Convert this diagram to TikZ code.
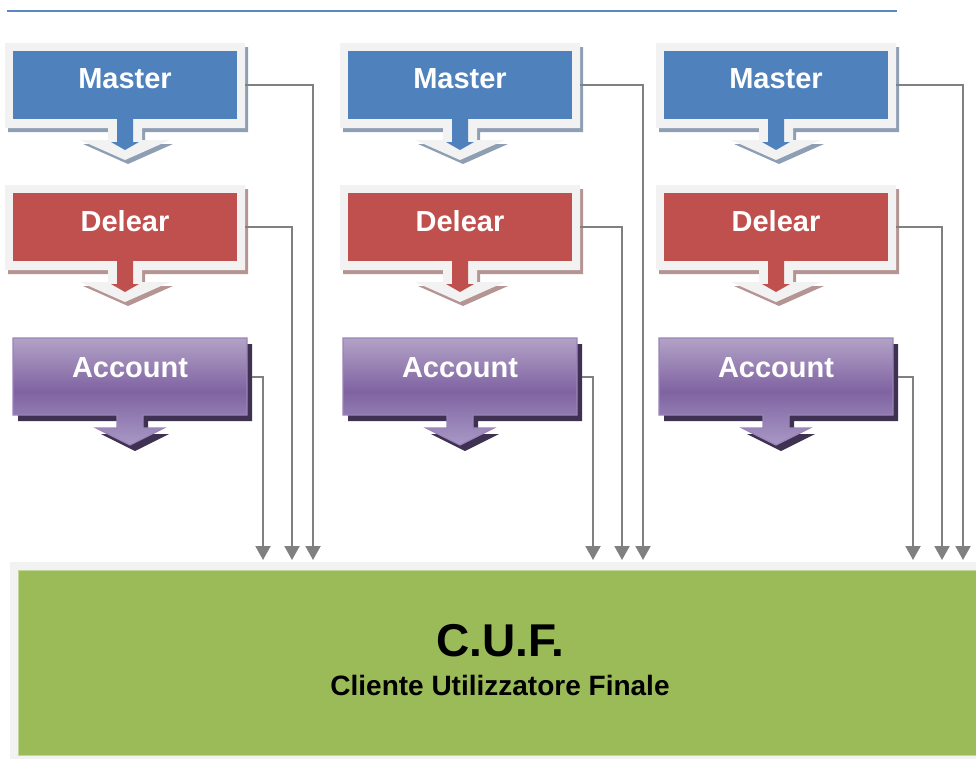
\documentclass[tikz,border=0pt]{standalone}
\usepackage{fontspec}
\setmainfont{Liberation Sans}
\usetikzlibrary{positioning,arrows.meta}

\definecolor{masterblue}{HTML}{4F81BD}
\definecolor{mastershade}{HTML}{8E9FB4}
\definecolor{delearred}{HTML}{C0504D}
\definecolor{delearshade}{HTML}{B59593}
\definecolor{framegray}{HTML}{F2F2F2}
\definecolor{acclight}{HTML}{B3A2C7}
\definecolor{accdark}{HTML}{7F63A1}
\definecolor{accpale}{HTML}{A999C6}
\definecolor{accline}{HTML}{9A84B8}
\definecolor{accshade}{HTML}{3F3151}
\definecolor{cufgreen}{HTML}{9BBB59}
\definecolor{cufline}{HTML}{C4D79B}
\definecolor{conngray}{HTML}{808080}
\definecolor{rulecol}{HTML}{5B87C5}

\begin{document}
\begin{tikzpicture}[x = 1pt, y = -1pt,
    box/.style = {minimum width = 224pt, minimum height = 68pt, outer sep = 8pt,
                  text = white, font = \fontsize{29}{30}\selectfont\bfseries, text depth = 12pt},
    accbox/.style = {minimum width = 234pt, minimum height = 77pt, outer xsep = 5pt,
                  text = white, font = \fontsize{29}{30}\selectfont\bfseries, text depth = 18pt},
    conn/.style = {draw = conngray, line width = 2pt, -{Triangle[width = 15pt, length = 14pt]}}]
    \useasboundingbox (0,0) rectangle (976,758);

    \draw[rulecol, line width = 1.2pt] (7,11) -- (897,11);

    \foreach \bx/\ax/\cx [count = \c] in {0/0/0, 335/330/330, 651/646/650}{
        \foreach \dy/\nm/\fc/\sc in {0/Master/masterblue/mastershade, 142/Delear/delearred/delearshade}{
            \begin{scope}[shift = {(\bx,\dy)}]
                \fill[\sc, shift = {(3,4)}] (5,43) -- (245,43) -- (245,128) -- (142,128) -- (142,140) -- (170,140)
                    -- (125,160) -- (80,140) -- (108,140) -- (108,128) -- (5,128) -- cycle;
                \fill[framegray] (5,43) -- (245,43) -- (245,128) -- (142,128) -- (142,140) -- (170,140)
                    -- (125,160) -- (80,140) -- (108,140) -- (108,128) -- (5,128) -- cycle;
                \node[box, fill = \fc] at (125,85) (\nm\c) {\nm};
                \fill[\fc] (117,115) -- (133,115) -- (133,142) -- (139,142) -- (125,150) -- (111,142) -- (117,142) -- cycle;
            \end{scope}
        }
        \begin{scope}[shift = {(\ax,0)}]
            \fill[accshade, shift = {(5,6)}] (13,338) -- (247,338) -- (247,415) -- (143,415) -- (143,428) -- (164,428)
                -- (130,445) -- (96,428) -- (117,428) -- (117,415) -- (13,415) -- cycle;
            \shade[top color = acclight, bottom color = accpale, middle color = accdark, draw = accline, line width = 1.2pt]
                (13,338) -- (247,338) -- (247,415) -- (143,415) -- (143,428) -- (164,428)
                -- (130,445) -- (96,428) -- (117,428) -- (117,415) -- (13,415) -- cycle;
            \node[accbox] at (130,376.5) (Account\c) {Account};
        \end{scope}

        \coordinate (aEnd\c) at (263+\cx,560);
        \coordinate (dEnd\c) at (292+\cx,560);
        \coordinate (mEnd\c) at (313+\cx,560);

        \draw[conn] (Account\c.east) -| (aEnd\c);
        \draw[conn] (Delear\c.east) -| (dEnd\c);
        \draw[conn] (Master\c.east) -| (mEnd\c);
    }

    \fill[framegray] (10,562) rectangle (995,770);
    \node[draw = cufline, line width = 1pt, fill = cufgreen, minimum width = 964pt, minimum height = 185pt] at (500,662.5) (cuf) {};
    \node[font = \fontsize{46}{48}\selectfont\bfseries, inner sep = 0pt] at (500,641) (cuftitle) {C.U.F.};
    \node[font = \fontsize{28}{30}\selectfont\bfseries, inner sep = 0pt, below = 18pt of cuftitle] (cufsub) {Cliente Utilizzatore Finale};
\end{tikzpicture}
\end{document}
